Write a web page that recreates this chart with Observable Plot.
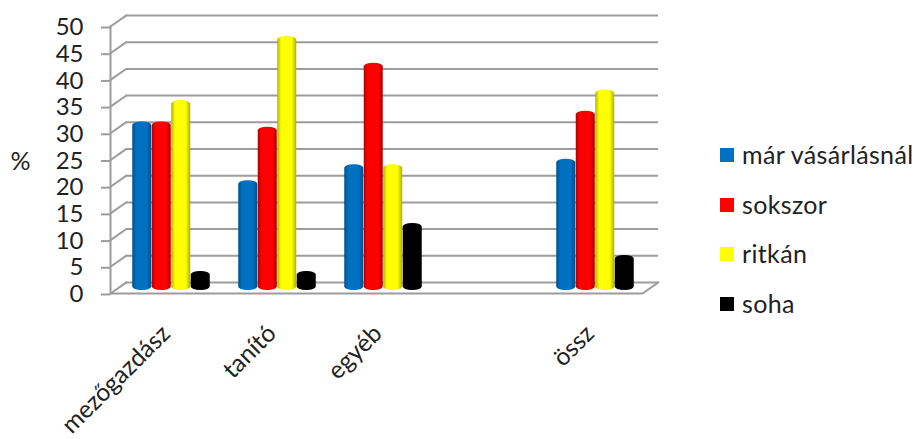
<!DOCTYPE html>
<html><head><meta charset="utf-8">
<script src="https://cdn.jsdelivr.net/npm/d3@7"></script>
<script src="https://cdn.jsdelivr.net/npm/@observablehq/plot@0.6"></script>
<style>
html,body{margin:0;padding:0;background:#fff}
#chart{position:relative;width:914px;height:439px;overflow:hidden;font-family:Lato,sans-serif;color:#222}
#legend{position:absolute;left:720px;top:130px}
#legend div{position:absolute;left:0;white-space:nowrap;font-size:25px;line-height:24px;letter-spacing:.35px}
#legend i{position:absolute;left:0;top:5px;width:14px;height:14px}
#legend span{position:absolute;left:22px;top:-1px}
</style></head><body><div id="chart"></div>
<script>
const categories = ["mezőgazdász", "tanító", "egyéb", "", "össz"];
const series = ["már vásárlásnál", "sokszor", "ritkán", "soha"];
const colors = ["#0070c0", "#ff0000", "#ffff00", "#000000"];
const edges = ["#00508c", "#b00000", "#b0b000", "#000000"];
const mar = [31, 20, 23, null, 24];
const sokszor = [31, 30, 42, null, 33];
const ritkan = [35, 47, 23, null, 37];
const soha = [3, 3, 12, null, 6];
const yTicks = [0,5,10,15,20,25,30,35,40,45,50];
const values = [mar, sokszor, ritkan, soha];
const grid = "#9c9c9c";

const wall = {draw(ctx, l) { ctx.moveTo(0, 0); ctx.lineTo(0, -l); }};
const defs = () => {
  const s = d3.create("svg:defs");
  colors.forEach((c, i) => {
    const g = s.append("linearGradient").attr("id", "g" + i);
    [[0, edges[i]], [.2, c], [.75, c], [1, edges[i]]].forEach(([o, k]) =>
      g.append("stop").attr("offset", o).attr("stop-color", k));
  });
  return s.node();
};
const bars = values.map((v, j) => Plot.barY(
  categories.map((c, i) => ({c, v: v[i]})).filter(d => d.v != null),
  {x: "c", y: "v", fill: `url(#g${j})`, dx: (j - 1.5) * 19.5 - 0.5, dy: -6, insetBottom: -3, rx: 9, ry: 3.5}
));

const plot = Plot.plot({
  width: 914, height: 439,
  marginLeft: 110, marginRight: 272, marginTop: 26, marginBottom: 146,
  style: {fontFamily: 'Lato,sans-serif', background: "#fff", overflow: "visible"},
  x: {domain: categories, range: [118, 649.5], paddingInner: 0.817, paddingOuter: 0.408, align: .5},
  y: {domain: [0, 50]},
  marks: [
    defs,
    Plot.ruleY(yTicks, {y: d => d, dx: 16, dy: -11, stroke: grid, strokeWidth: 2}),
    Plot.vector(yTicks, {y: d => d, frameAnchor: "left", length: 19.4, rotate: 55, anchor: "start", shape: wall, stroke: grid, strokeWidth: 2}),
    Plot.vector([0], {y: d => d, frameAnchor: "right", length: 19.4, rotate: 55, anchor: "start", shape: wall, stroke: grid, strokeWidth: 2}),
    Plot.frame({anchor: "left", stroke: grid, strokeWidth: 2}),
    Plot.ruleY([0], {stroke: grid, strokeWidth: 2}),
    ...bars,
    Plot.axisY({ticks: yTicks, tickSize: 9, tickPadding: 18, fontSize: 24, stroke: grid, strokeWidth: 2, color: "#222", label: null, dy: 1}),
    Plot.axisX({tickSize: 0, tickRotate: -45, tickPadding: 36, fontSize: 24.5, color: "#222", label: null, dx: -6}),
    Plot.text(["%"], {frameAnchor: "left", dx: -100, dy: 2, fontSize: 25, fill: "#222"})
  ]
});
const root = document.getElementById("chart");
root.append(plot);
const leg = document.createElement("div");
leg.id = "legend";
series.forEach((s, i) => {
  const d = document.createElement("div");
  d.style.top = (13 + i * 49.5) + "px";
  const sw = document.createElement("i");
  sw.style.background = colors[i];
  const t = document.createElement("span");
  t.textContent = s;
  d.append(sw, t);
  leg.append(d);
});
root.append(leg);
</script></body></html>
